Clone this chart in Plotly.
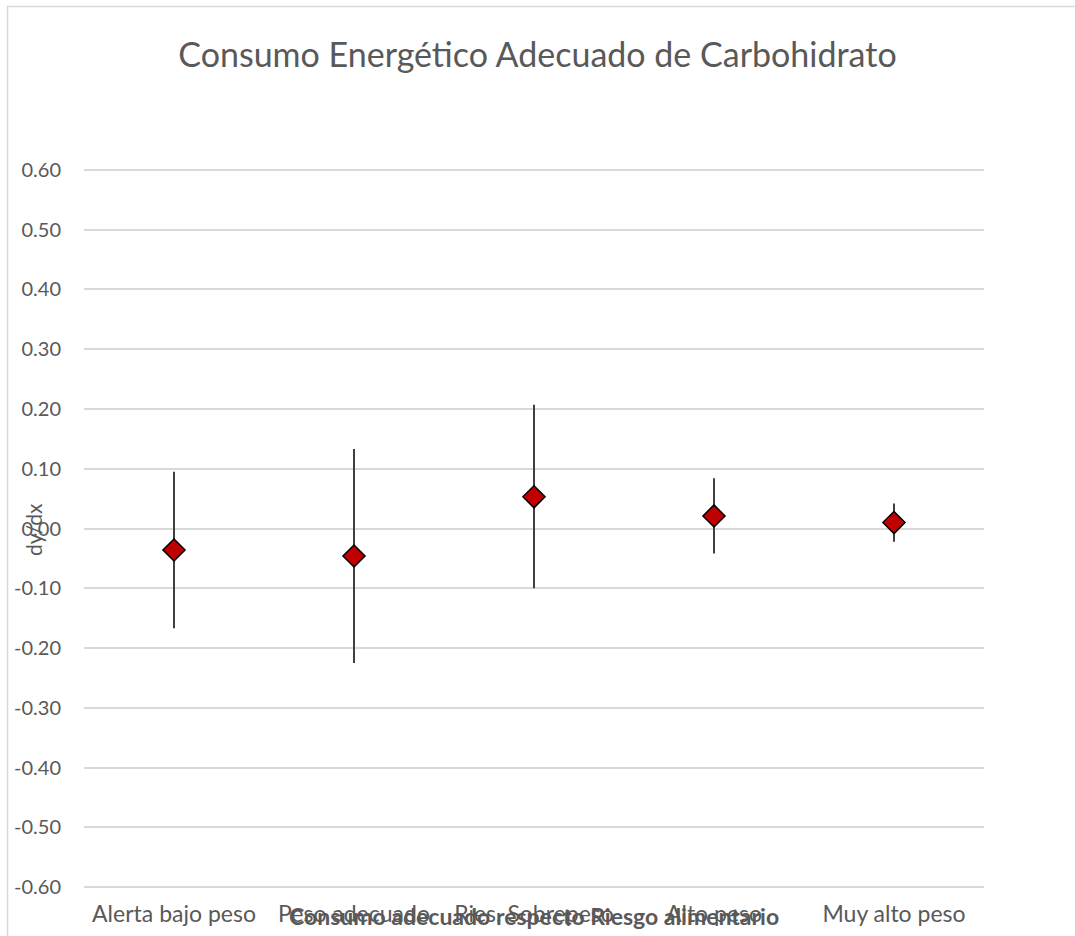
import plotly.graph_objects as go

categories = ["Alerta bajo peso", "Peso adecuado", "Ries. Sobrepeso", "Alto peso", "Muy alto peso"]
estimate = [-0.036, -0.046, 0.053, 0.021, 0.010]
upper = [0.095, 0.133, 0.207, 0.084, 0.042]
lower = [-0.167, -0.225, -0.100, -0.042, -0.022]
tick_vals = [-0.6, -0.5, -0.4, -0.3, -0.2, -0.1, 0.0, 0.1, 0.2, 0.3, 0.4, 0.5, 0.6]
tick_text = ["-0.60", "-0.50", "-0.40", "-0.30", "-0.20", "-0.10", "0.00",
             "0.10", "0.20", "0.30", "0.40", "0.50", "0.60"]

err_plus = [u - e for u, e in zip(upper, estimate)]
err_minus = [e - l for e, l in zip(estimate, lower)]

FONT = "Lato"
GREY = "#595959"

fig = go.Figure()
fig.add_trace(go.Scatter(
    x=categories, y=estimate, mode="markers",
    marker=dict(symbol="diamond", size=17, color="#C00000",
                line=dict(color="#000000", width=1.5)),
    error_y=dict(type="data", symmetric=False, array=err_plus, arrayminus=err_minus,
                 color="#404040", thickness=2, width=0),
    showlegend=False, hoverinfo="skip",
))

L, R, T, B = 84, 91, 167, 46
W, H = 1075, 936
pw, ph = W - L - R, H - T - B

def px(xp):
    return (xp - L) / pw

def py(yp):
    return (H - B - yp) / ph

fig.update_layout(
    width=W, height=H,
    margin=dict(l=L, r=R, t=T, b=B, autoexpand=False),
    paper_bgcolor="white", plot_bgcolor="white",
    font=dict(family=FONT, color=GREY, size=20),
    title=dict(text="Consumo Energético Adecuado de Carbohidrato",
               x=0.5, xanchor="center", y=1 - 55 / H, yanchor="middle",
               font=dict(family=FONT, size=34, color=GREY)),
    xaxis=dict(showgrid=False, showline=False, zeroline=False, ticks="",
               tickfont=dict(size=23, color=GREY), ticklabelstandoff=8,
               range=[-0.5, 4.5], automargin=False),
    yaxis=dict(range=[-0.605, 0.605], tickvals=tick_vals, ticktext=tick_text,
               showgrid=True, gridcolor="#D9D9D9", gridwidth=1.5,
               zeroline=False, showline=False, ticks="",
               tickfont=dict(size=20, color=GREY), ticklabelstandoff=22,
               automargin=False),
    annotations=[
        dict(text="<b>Consumo adecuado respecto Riesgo alimentario</b>",
             xref="paper", yref="paper", x=px(534), y=py(916),
             xanchor="center", yanchor="middle", showarrow=False,
             font=dict(family=FONT, size=23, color=GREY)),
        dict(text="dy/dx", xref="paper", yref="paper", x=px(33), y=py(530),
             xanchor="center", yanchor="middle", textangle=-90, showarrow=False,
             font=dict(family=FONT, size=21, color=GREY)),
    ],
    shapes=[
        dict(type="rect", xref="paper", yref="paper",
             x0=px(7.5), x1=px(1090), y0=py(950), y1=py(6.5),
             line=dict(color="#D9D9D9", width=1.5), fillcolor="rgba(0,0,0,0)",
             layer="below"),
    ],
)

fig.write_html("out.html")
